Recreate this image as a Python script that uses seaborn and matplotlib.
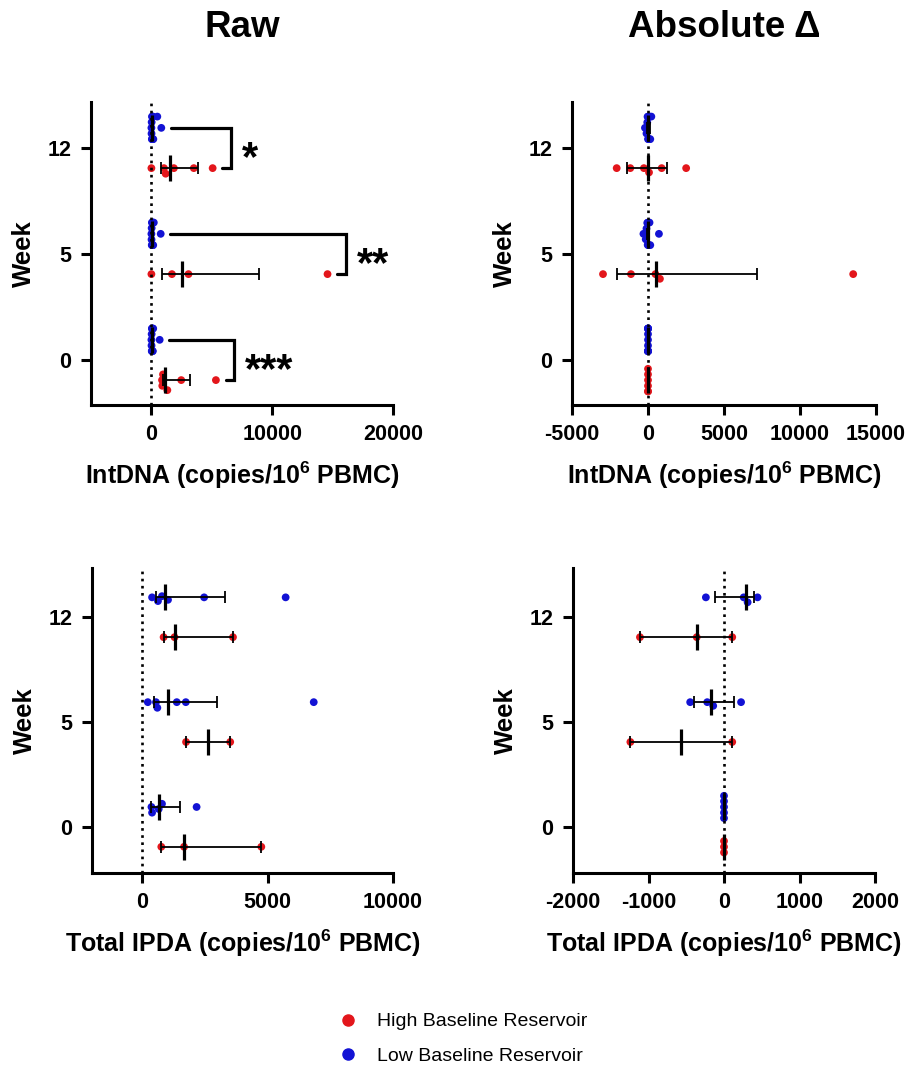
import numpy as np
import pandas as pd
import matplotlib
matplotlib.use("Agg")
import matplotlib.pyplot as plt
import seaborn as sns
from matplotlib.lines import Line2D

# ---------------- data ----------------
weeks = ["0", "5", "12"]
group_high = "High Baseline Reservoir"
group_low = "Low Baseline Reservoir"

# IntDNA raw values per week
intdna_raw_high = {"0": [880, 900, 960, 1320, 2470, 5340],
                   "5": [0, 1700, 3070, 14580],
                   "12": [0, 1040, 1180, 1860, 3510, 5070]}
intdna_raw_low = {"0": [0, 10, 20, 30, 40, 50, 60, 80, 100, 120, 150, 685],
                  "5": [0, 10, 20, 30, 40, 60, 80, 100, 120, 150, 200, 770],
                  "12": [0, 10, 20, 40, 50, 60, 80, 100, 130, 160, 490, 820]}
intdna_raw_high_median = [1150, 2550, 1500]
intdna_raw_high_q1 = [960, 900, 820]
intdna_raw_high_q3 = [3230, 8900, 3840]
intdna_raw_low_median = [50, 60, 60]
intdna_raw_low_q1 = [20, 20, 20]
intdna_raw_low_q3 = [110, 130, 140]

# IntDNA absolute change
intdna_delta_high = {"0": [0, 0, 0, 0, 0, 0],
                     "5": [-2960, -1120, 490, 785, 13500],
                     "12": [-2060, -1165, -270, 67, 900, 2510]}
intdna_delta_low = {"0": [0] * 12,
                    "5": [-300, -150, -100, -50, -20, 0, 10, 30, 60, 100, 150, 720],
                    "12": [-200, -100, -50, -30, 0, 20, 40, 60, 80, 100, 150, 220]}
intdna_delta_high_median = [0, 515, 0]
intdna_delta_high_q1 = [0, -2040, -1390]
intdna_delta_high_q3 = [0, 7150, 1230]
intdna_delta_low_median = [0, 10, 30]
intdna_delta_low_q1 = [0, -80, -40]
intdna_delta_low_q3 = [0, 80, 100]

# Total IPDA raw values per week
ipda_raw_high = {"0": [763, 1670, 4750], "5": [1750, 3510], "12": [855, 1290, 3620]}
ipda_raw_low = {"0": [370, 395, 660, 790, 2170],
                "5": [225, 550, 605, 1380, 1740, 6840],
                "12": [395, 630, 790, 1030, 2470, 5720]}
ipda_raw_high_median = [1670, 2630, 1290]
ipda_raw_high_q1 = [763, 1750, 855]
ipda_raw_high_q3 = [4750, 3510, 3620]
ipda_raw_low_median = [670, 1010, 920]
ipda_raw_low_q1 = [370, 460, 550]
ipda_raw_low_q3 = [1490, 3000, 3290]

# Total IPDA absolute change
ipda_delta_high = {"0": [0, 0, 0], "5": [-1240, 109], "12": [-1113, -361, 109]}
ipda_delta_low = {"0": [0, 0, 0, 0, 0],
                  "5": [-448, -222, -143, 226],
                  "12": [-240, 261, 313, 444]}
ipda_delta_high_median = [0, -565, -361]
ipda_delta_high_q1 = [0, -1240, -1113]
ipda_delta_high_q3 = [0, 109, 109]
ipda_delta_low_median = [0, -178, 291]
ipda_delta_low_q1 = [0, -391, -113]
ipda_delta_low_q3 = [0, 130, 391]

sig_stars = ["***", "**", "*"]  # week 0, 5, 12 (Raw IntDNA)

# ---------------- style ----------------
RED = "#e3161b"
BLUE = "#1212d4"
OFF = 0.19

sns.set_style("ticks", {"axes.edgecolor": "black", "xtick.color": "black",
                        "ytick.color": "black", "text.color": "black",
                        "axes.labelcolor": "black"})
plt.rcParams["font.family"] = ["Liberation Sans", "DejaVu Sans"]
plt.rcParams["font.weight"] = "bold"
plt.rcParams["text.color"] = "black"
plt.rcParams["mathtext.fontset"] = "custom"
plt.rcParams["mathtext.rm"] = "Liberation Sans:bold"
plt.rcParams["mathtext.bf"] = "Liberation Sans:bold"
plt.rcParams["mathtext.it"] = "Liberation Sans:bold"
plt.rcParams["mathtext.default"] = "rm"

W, H = 909, 1067
fig = plt.figure(figsize=(W / 100, H / 100), dpi=100)


def add_ax(l, t, r, b):
    return fig.add_axes([l / W, 1 - b / H, (r - l) / W, (b - t) / H])


swarm_colls = []


def panel(ax, high, low, hmed, hq1, hq3, lmed, lq1, lq3, xlim, xticks, ylim, xlabel):
    rows = []
    for i, w in enumerate(weeks):
        for v in low[w]:
            rows.append((v, i + OFF, group_low))
        for v in high[w]:
            rows.append((v, i - OFF, group_high))
    df = pd.DataFrame(rows, columns=["value", "pos", "group"])
    ax.set_xlim(*xlim)
    ax.set_ylim(*ylim)
    n0 = len(ax.collections)
    sns.swarmplot(data=df, x="value", y="pos", hue="group",
                  hue_order=[group_high, group_low], palette=[RED, BLUE],
                  orient="h", native_scale=True, size=5.6, linewidth=0,
                  ax=ax, legend=False, zorder=2, warn_thresh=1)
    for c in ax.collections[n0:]:
        swarm_colls.append((ax, c))
    idx = np.arange(len(weeks))
    for med, q1, q3, pos in [(hmed, hq1, hq3, idx - OFF), (lmed, lq1, lq3, idx + OFF)]:
        med = np.asarray(med, float)
        q1 = np.asarray(q1, float)
        q3 = np.asarray(q3, float)
        ax.errorbar(med, pos, xerr=[med - q1, q3 - med], fmt="none",
                    ecolor="black", elinewidth=1.3, capsize=4.3, capthick=1.3,
                    zorder=3)
        ax.plot(med, pos, ls="none", marker="|", markersize=19,
                markeredgewidth=2.3, color="black", zorder=4)
    ax.axvline(0, color="black", lw=1.9, ls=(0, (1, 1.7)), zorder=5)
    ax.set_xlim(*xlim)
    ax.set_ylim(*ylim)
    ax.set_xticks(xticks)
    ax.set_xticklabels([str(t) for t in xticks])
    ax.set_yticks(idx)
    ax.set_yticklabels(weeks)
    ax.set_xlabel(xlabel, fontsize=18, fontweight="bold", labelpad=10,
                  color="black")
    ax.set_ylabel("Week", fontsize=18.5, fontweight="bold", labelpad=8,
                  color="black")
    for s in ["top", "right"]:
        ax.spines[s].set_visible(False)
    for s in ["left", "bottom"]:
        ax.spines[s].set_linewidth(2.2)
        ax.spines[s].set_color("black")
    ax.tick_params(axis="both", width=2.2, length=7, labelsize=15.5, pad=7,
                   direction="out", colors="black")
    for lab in ax.get_xticklabels() + ax.get_yticklabels():
        lab.set_fontweight("bold")


ylim_top = (-0.425, 2.434)
ylim_bot = (-0.44, 2.47)
lbl_int = "IntDNA (copies/10$^{6}$ PBMC)"
lbl_ipda = "Total IPDA (copies/10$^{6}$ PBMC)"

ax1 = add_ax(91, 102, 393, 405)
panel(ax1, intdna_raw_high, intdna_raw_low,
      intdna_raw_high_median, intdna_raw_high_q1, intdna_raw_high_q3,
      intdna_raw_low_median, intdna_raw_low_q1, intdna_raw_low_q3,
      (-5000, 20000), [0, 10000, 20000], ylim_top, lbl_int)

ax2 = add_ax(572, 102, 876, 405)
panel(ax2, intdna_delta_high, intdna_delta_low,
      intdna_delta_high_median, intdna_delta_high_q1, intdna_delta_high_q3,
      intdna_delta_low_median, intdna_delta_low_q1, intdna_delta_low_q3,
      (-5000, 15000), [-5000, 0, 5000, 10000, 15000], ylim_top, lbl_int)

ax3 = add_ax(92, 568, 393, 873)
panel(ax3, ipda_raw_high, ipda_raw_low,
      ipda_raw_high_median, ipda_raw_high_q1, ipda_raw_high_q3,
      ipda_raw_low_median, ipda_raw_low_q1, ipda_raw_low_q3,
      (-2000, 10000), [0, 5000, 10000], ylim_bot, lbl_ipda)

ax4 = add_ax(573, 568, 875, 873)
panel(ax4, ipda_delta_high, ipda_delta_low,
      ipda_delta_high_median, ipda_delta_high_q1, ipda_delta_high_q3,
      ipda_delta_low_median, ipda_delta_low_q1, ipda_delta_low_q3,
      (-2000, 2000), [-2000, -1000, 0, 1000, 2000], ylim_bot, lbl_ipda)

# significance brackets (Raw IntDNA)
for i, w in enumerate(weeks):
    hmax = max(intdna_raw_high[w])
    lmax = max(intdna_raw_low[w])
    right = hmax + 1500
    ax1.plot([lmax + 800, right, right, hmax + 800],
             [i + OFF, i + OFF, i - OFF, i - OFF],
             color="black", lw=2.3, solid_joinstyle="miter", zorder=3,
             clip_on=False)
    ax1.text(right + 900, i - 0.21, sig_stars[i], ha="left", va="baseline",
             fontsize=30, fontweight="bold", clip_on=False, color="black")

# titles
fig.text(242 / W, 1 - 37 / H, "Raw", ha="center", va="baseline",
         fontsize=26.5, fontweight="bold", color="black")
fig.text(724 / W, 1 - 37 / H, "Absolute Δ", ha="center", va="baseline",
         fontsize=26.5, fontweight="bold", color="black")

# legend
handles = [Line2D([], [], marker="o", ls="none", color=RED, markersize=8),
           Line2D([], [], marker="o", ls="none", color=BLUE, markersize=8)]
leg = fig.legend(handles, [group_high, group_low], loc="upper left",
                 bbox_to_anchor=(321 / W, 1 - 1005 / H), frameon=False,
                 prop={"family": "Liberation Sans", "weight": "normal", "size": 14},
                 handletextpad=0.5, labelspacing=0.85, borderaxespad=0)
for t in leg.get_texts():
    t.set_color("black")

# compute swarms, then tighten them vertically (points may overlap, as in reference)
fig.canvas.draw()
for ax, c in swarm_colls:
    off = c.get_offsets()
    if len(off) == 0:
        continue
    off = np.array(off, dtype=float)
    centers = np.array([i + s for i in range(len(weeks)) for s in (-OFF, OFF)])
    ctr = centers[np.argmin(np.abs(centers - np.median(off[:, 1])))]
    off[:, 1] = ctr + 0.7 * (off[:, 1] - ctr)
    if "draw" in c.__dict__:
        del c.draw
    c.set_offsets(off)

fig.savefig("out.png", dpi=100)
